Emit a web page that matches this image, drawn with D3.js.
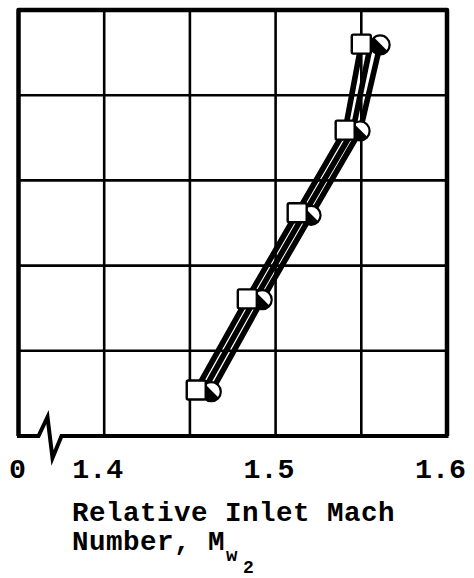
<!DOCTYPE html>
<html>
<head>
<meta charset="utf-8">
<script src="https://cdn.jsdelivr.net/npm/d3@7"></script>
<style>
  html, body { margin: 0; padding: 0; background: #fff; }
  svg { display: block; }
  text { font-family: "Liberation Mono", "DejaVu Sans Mono", monospace; font-weight: bold; fill: #000; }
</style>
</head>
<body>
<svg id="chart" width="474" height="578"></svg>
<script>
// Relative inlet Mach number per test point, three instrumented streamlines
const machSquare = [1.4537, 1.4835, 1.5126, 1.5406, 1.5500];
const machMid    = [1.4580, 1.4878, 1.5165, 1.5450, 1.5555];
const machCircle = [1.4625, 1.4922, 1.5207, 1.5493, 1.5610];
// Ordinate (grid units, axis unlabeled)
const ySquare = [0.54, 1.61, 2.62, 3.59, 4.60];
const yMid    = [0.53, 1.60, 2.60, 3.58, 4.60];
const yCircle = [0.52, 1.60, 2.59, 3.58, 4.59];

const xTicks = [1.35, 1.40, 1.45, 1.50, 1.55, 1.60];
const xTickLabels = ["0", "1.4", "", "1.5", "", "1.6"];
const yTicks = [0, 1, 2, 3, 4, 5];

const svg = d3.select("#chart");
const x = d3.scaleLinear().domain([1.35, 1.60]).range([18.5, 447]);
const y = d3.scaleLinear().domain([0, 5]).range([436, 10]);

// grid
const g = svg.append("g");
g.selectAll("line.v").data(xTicks.slice(1, -1)).join("line")
  .attr("x1", d => x(d)).attr("x2", d => x(d))
  .attr("y1", y(0)).attr("y2", y(5))
  .attr("stroke", "#000").attr("stroke-width", 2.6);
g.selectAll("line.h").data(yTicks.slice(1, -1)).join("line")
  .attr("x1", x(1.35)).attr("x2", x(1.60))
  .attr("y1", d => y(d)).attr("y2", d => y(d))
  .attr("stroke", "#000").attr("stroke-width", 2.6);

// frame: left, top, right edges, then broken baseline
const x0 = x(1.35), x1 = x(1.60), yb = y(0), yt = y(5);
g.append("path")
  .attr("d", `M${x0},${yb} L${x0},${yt} L${x1},${yt} L${x1},${yb}`)
  .attr("fill", "none").attr("stroke", "#000").attr("stroke-width", 4.5)
  .attr("stroke-linejoin", "round");
g.append("path")
  .attr("d", `M${x0 - 1.5},${yb} L${x0 + 20},${yb} L${x0 + 29},${yb - 19} L${x0 + 34},${yb + 22} L${x0 + 43},${yb} L${x1 + 1.5},${yb}`)
  .attr("fill", "none").attr("stroke", "#000").attr("stroke-width", 4)
  .attr("stroke-linejoin", "miter");

// tick labels
svg.append("g").selectAll("text").data(xTicks.map((v, i) => [v, xTickLabels[i]]).filter(d => d[1]))
  .join("text")
  .attr("x", d => x(d[0]) + (d[1].length > 1 ? -6.5 : -1))
  .attr("y", 478)
  .attr("text-anchor", "middle")
  .attr("font-size", 28.3)
  .text(d => d[1]);

// axis title
const title = svg.append("g");
title.append("text").attr("x", 72).attr("y", 521).attr("font-size", 27.5).attr("letter-spacing", 0.5).text("Relative Inlet Mach");
title.append("text").attr("x", 72).attr("y", 550).attr("font-size", 27.5).attr("letter-spacing", 0.5).text("Number, M");
title.append("text").attr("x", 226).attr("y", 561).attr("font-size", 19).text("w");
title.append("text").attr("x", 243).attr("y", 573).attr("font-size", 18).text("2");

// curves
const series = [
  { xs: machCircle, ys: yCircle, marker: "circle" },
  { xs: machMid, ys: yMid, marker: null },
  { xs: machSquare, ys: ySquare, marker: "square" }
];
const line = d3.line().x(d => x(d[0])).y(d => y(d[1]));
const lines = svg.append("g");
series.forEach(s => {
  const pts = s.xs.map((v, i) => [v, s.ys[i]]);
  lines.append("path").attr("d", line(pts))
    .attr("fill", "none").attr("stroke", "#000").attr("stroke-width", 5.6)
    .attr("stroke-linejoin", "round");
});

// markers: slashed half-shaded circles first, squares on top
const marks = svg.append("g");
series.filter(s => s.marker).forEach(s => {
  s.xs.forEach((v, i) => {
    const cx = x(v), cy = y(s.ys[i]);
    if (s.marker === "square") {
      marks.append("rect")
        .attr("x", cx - 9.5).attr("y", cy - 9.5).attr("width", 19).attr("height", 19)
        .attr("rx", 1.5)
        .attr("fill", "#fff").attr("stroke", "#000").attr("stroke-width", 2.4);
    } else {
      const r = 9.5;
      const grp = marks.append("g").attr("transform", `translate(${cx},${cy})`);
      grp.append("circle").attr("r", r).attr("fill", "#fff").attr("stroke", "#000").attr("stroke-width", 2.2);
      const a = r * Math.SQRT1_2;
      grp.append("path")
        .attr("d", `M${-a},${-a} A${r},${r} 0 0 0 ${a},${a} Z`)
        .attr("fill", "#000");
      grp.append("line").attr("x1", -a).attr("y1", -a).attr("x2", a).attr("y2", a)
        .attr("stroke", "#000").attr("stroke-width", 1.8);
    }
  });
});
</script>
</body>
</html>
